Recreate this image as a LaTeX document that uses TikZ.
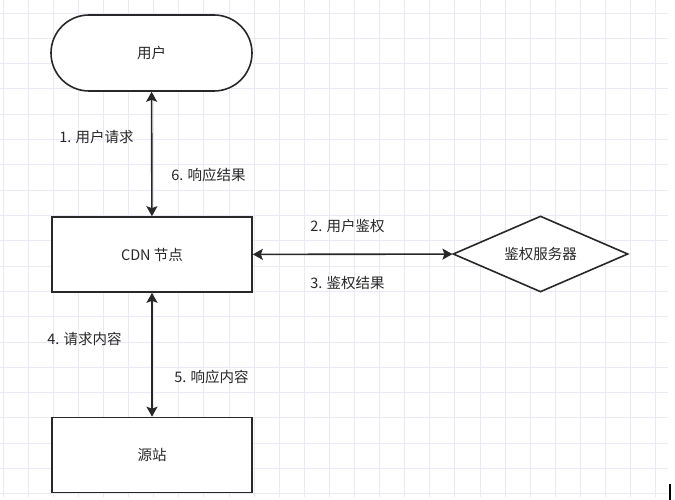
\documentclass[tikz,border=0pt]{standalone}
\usepackage{fontspec}
\setmainfont{Noto Sans CJK SC}
\usetikzlibrary{arrows.meta,shapes.geometric}
\definecolor{gridcol}{RGB}{234,234,246}
\definecolor{inkcol}{RGB}{40,40,40}
\begin{document}
\begin{tikzpicture}[
                x=1pt,y=-1pt,
                every node/.append style={text=inkcol,font=\fontsize{14.5}{17}\selectfont},
                box/.style={draw=inkcol,line width=1.6pt,fill=white,minimum width=200pt,minimum height=75pt,inner sep=0pt},
                link/.style={draw=inkcol,line width=1.6pt,{Stealth[length=10pt,width=11pt,inset=2pt]}-{Stealth[length=10pt,width=11pt,inset=2pt]}}
            ]
                \useasboundingbox (0,0) rectangle (675,500);
                \fill[white] (0,0) rectangle (675,500);
                % background grid
                \foreach \i in {0,...,26}
                    \draw[gridcol,line width=0.8pt] ({3+25.1*\i},0) -- ({3+25.1*\i},497);
                \foreach \j in {0,...,19}
                    \draw[gridcol,line width=0.8pt] (0,{13+25.3*\j}) -- (668,{13+25.3*\j});
                \node[box,rounded corners=38pt,minimum width=201pt,minimum height=76pt] (user) at (151.5,53) {用户};
                \node[box] (cdn) at (152,254.5) {CDN 节点};
                \node[box] (origin) at (152,455) {源站};
                \node[diamond,aspect=2.3,draw=inkcol,line width=1.6pt,fill=white,minimum width=175pt,minimum height=76pt,inner sep=0pt] (auth) at (540.5,254) {鉴权服务器};
                \draw[link] (user) -- (cdn);
                \draw[link] (cdn) -- (auth);
                \draw[link] (cdn) -- (origin);
                \node (req) at (96.5,137) {1. 用户请求};
                \node (res) at (208.5,175) {6. 响应结果};
                \node (ask) at (347.5,226) {2. 用户鉴权};
                \node (ans) at (347.5,283) {3. 鉴权结果};
                \node (get) at (84.5,339) {4. 请求内容};
                \node (put) at (211.5,377) {5. 响应内容};
                \draw[black,line width=1.5pt] (670,484) -- (670,500);
            \end{tikzpicture}
\end{document}
